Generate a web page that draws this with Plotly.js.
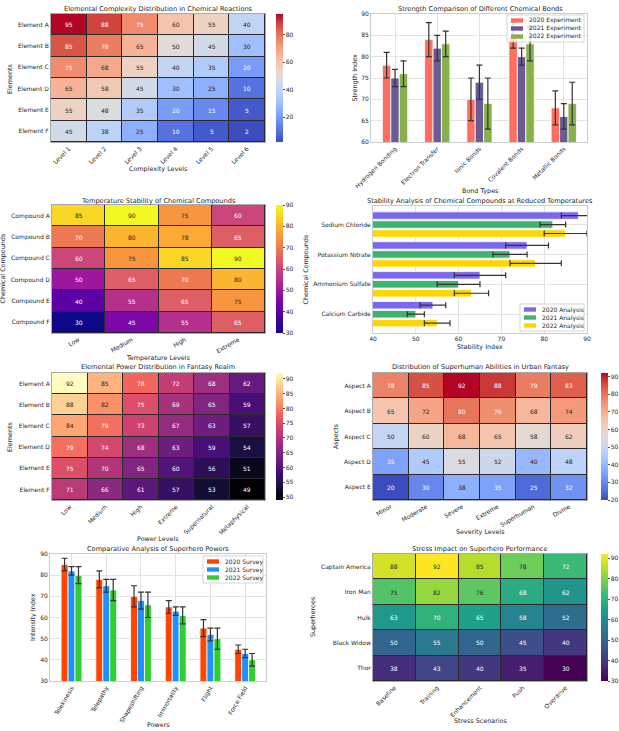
<!DOCTYPE html>
<html>
<head>
<meta charset="utf-8">
<script src="https://cdn.plot.ly/plotly-3.0.1.min.js"></script>
<style>html,body{margin:0;padding:0;background:#fff}#chart{width:619px;height:731px}</style>
</head>
<body>
<div id="chart"></div>
<script>
// ---------- DATA ----------
const complexityElements = ['Element A','Element B','Element C','Element D','Element E','Element F'];
const complexityLevels = ['Level 1','Level 2','Level 3','Level 4','Level 5','Level 6'];
const complexityValues = [
  [95,88,75,60,55,40],
  [85,78,65,50,45,30],
  [75,68,55,40,35,20],
  [65,58,45,30,25,10],
  [55,48,35,20,15,5],
  [45,38,25,10,5,2]
];

const bondTypes = ['Hydrogen Bonding','Electron Transfer','Ionic Bonds','Covalent Bonds','Metallic Bonds'];
const bondSeries = ['2020 Experiment','2021 Experiment','2022 Experiment'];
const bond2020 = [78,84,70,85,68];
const bond2020Err = [3,4,5,3,4];
const bond2021 = [75,82,74,80,66];
const bond2021Err = [2,3,4,2,3];
const bond2022 = [76,83,69,83,69];
const bond2022Err = [3,3,6,4,5];

const compoundNames = ['Compound A','Compound B','Compound C','Compound D','Compound E','Compound F'];
const temperatureLevels = ['Low','Medium','High','Extreme'];
const temperatureValues = [
  [85,90,75,60],
  [70,80,78,65],
  [60,75,85,90],
  [50,65,70,80],
  [40,55,65,75],
  [30,45,55,65]
];

const stabilityCompounds = ['Sodium Chloride','Potassium Nitrate','Ammonium Sulfate','Calcium Carbide'];
const stabilitySeries = ['2020 Analysis','2021 Analysis','2022 Analysis'];
const stability2020 = [88,76,65,54];
const stability2020Err = [4,5,6,3];
const stability2021 = [82,72,60,50];
const stability2021Err = [3,4,5,2];
const stability2022 = [85,78,63,55];
const stability2022Err = [5,6,4,3];

const fantasyElements = ['Element A','Element B','Element C','Element D','Element E','Element F'];
const powerLevels = ['Low','Medium','High','Extreme','Supernatural','Metaphysical'];
const fantasyValues = [
  [92,85,78,72,68,62],
  [88,82,75,69,65,59],
  [84,79,73,67,63,57],
  [79,74,68,63,59,54],
  [75,70,65,60,56,51],
  [71,66,61,57,53,49]
];

const aspects = ['Aspect A','Aspect B','Aspect C','Aspect D','Aspect E'];
const severityLevels = ['Minor','Moderate','Severe','Extreme','Superhuman','Divine'];
const aspectValues = [
  [78,85,92,88,79,83],
  [65,72,80,76,68,74],
  [50,60,68,65,58,62],
  [35,45,55,52,40,48],
  [20,30,38,35,25,32]
];

const powers = ['Telekinesis','Telepathy','Shapeshifting','Immortality','Flight','Force Field'];
const surveySeries = ['2020 Survey','2021 Survey','2022 Survey'];
const survey2020 = [85,78,70,65,55,45];
const survey2020Err = [3,4,5,3,4,2];
const survey2021 = [82,75,68,63,52,43];
const survey2021Err = [2,3,4,2,3,2];
const survey2022 = [80,73,66,61,50,40];
const survey2022Err = [4,5,6,4,5,3];

const superheroes = ['Captain America','Iron Man','Hulk','Black Widow','Thor'];
const stressScenarios = ['Baseline','Training','Enhancement','Push','Overdrive'];
const stressValues = [
  [88,92,85,78,72],
  [75,82,76,68,62],
  [63,70,65,58,52],
  [50,55,50,45,40],
  [38,43,40,35,30]
];

// ---------- STYLE ----------
const W = 619, H = 731;
const FONT = 'DejaVu Sans, Liberation Sans, sans-serif';
const TXT = '#262626';
const px = v => v / W;
const py = v => 1 - v / H;

function even(cols){ return cols.map((c,i)=>[i/(cols.length-1), c]); }
const coolwarm = even(['#3b4cc0','#4d68d7','#6282ea','#779af7','#8db0fe','#a3c2fe','#b8d0f9','#cbd8ee','#dddcdc','#ecd3c5','#f5c4ac','#f7b093','#f49a7b','#ec7f63','#de604d','#cb3e38','#b40426']);
const plasma = even(['#0d0887','#47039f','#7301a8','#9c179e','#bd3786','#d8576b','#ed7953','#fb9f3a','#fdca26','#f0f921']);
const magma = even(['#000004','#180f3d','#440f76','#721f81','#9e2f7f','#cd4071','#f1605d','#fd9668','#feca8d','#fcfdbf']);
const viridis = even(['#440154','#482878','#3e4989','#31688e','#26828e','#1f9e89','#35b779','#6ece58','#b5de2b','#fde725']);

// subplot boxes in pixels [left, right, top, bottom]
const boxes = {
  1:[51,265,14,142],
  2:[371,587,14,142],
  3:[52,265,205,333],
  4:[373,587,206,333],
  5:[52,265,373,500],
  6:[373,587,373,500],
  7:[50,266,554,681],
  8:[373,587,554,681]
};

const layout = {
  width: W, height: H,
  margin: {l:0,r:0,t:0,b:0},
  paper_bgcolor: '#ffffff',
  plot_bgcolor: 'rgba(0,0,0,0)',
  font: {family: FONT, size: 6, color: TXT},
  showlegend: false,
  barmode: 'overlay',
  annotations: [],
  shapes: []
};

function axName(i, a){ return i===1 ? a+'axis' : a+'axis'+i; }
function axRef(i, a){ return i===1 ? a : a+i; }

function hexToRgb(h){ return [parseInt(h.slice(1,3),16), parseInt(h.slice(3,5),16), parseInt(h.slice(5,7),16)]; }
function scaleColor(scale, t){
  t = Math.max(0, Math.min(1, t));
  for (let k=1;k<scale.length;k++){
    if (t <= scale[k][0]){
      const a = hexToRgb(scale[k-1][1]), b = hexToRgb(scale[k][1]);
      const f = (t - scale[k-1][0])/(scale[k][0]-scale[k-1][0]);
      return a.map((v,n)=>v+(b[n]-v)*f);
    }
  }
  return hexToRgb(scale[scale.length-1][1]);
}
function luminance(rgb){
  const l = rgb.map(v=>{ const c=v/255; return c<=0.03928 ? c/12.92 : Math.pow((c+0.055)/1.055, 2.4); });
  return 0.2126*l[0] + 0.7152*l[1] + 0.0722*l[2];
}

function heatAxes(i, tickangle){
  const b = boxes[i];
  layout[axName(i,'x')] = {
    domain:[px(b[0]), px(b[1])], anchor: axRef(i,'y'), type:'category',
    showgrid:false, zeroline:false, ticks:'', tickangle: tickangle,
    tickfont:{size:6, color:TXT, family:FONT}, showline:true, mirror:true,
    linecolor:'#aaaaaa', linewidth:1, fixedrange:true
  };
  layout[axName(i,'y')] = {
    domain:[py(b[3]), py(b[2])], anchor: axRef(i,'x'), type:'category',
    autorange:'reversed', showgrid:false, zeroline:false, ticks:'',
    tickfont:{size:6, color:TXT, family:FONT}, showline:true, mirror:true,
    linecolor:'#aaaaaa', linewidth:1, fixedrange:true
  };
  layout.shapes.push({type:'rect', xref: axRef(i,'x')+' domain', yref: axRef(i,'y')+' domain',
    x0:0, x1:1, y0:0, y1:1, fillcolor:'#2a2a2a', line:{width:0}, layer:'below'});
}

function barAxes(i, catAxis, valRange, dtick, catRange, tickangle){
  const b = boxes[i];
  const common = {showgrid:true, gridcolor:'#e3e3e3', gridwidth:1, zeroline:false, ticks:'',
    tickfont:{size:6, color:TXT, family:FONT}, showline:true, mirror:true,
    linecolor:'#cccccc', linewidth:1, fixedrange:true};
  const cat = Object.assign({}, common, {type:'category', range:catRange, tickangle: tickangle});
  const val = Object.assign({}, common, {range:valRange, dtick:dtick, tick0:0});
  const xa = catAxis==='x' ? cat : val;
  const ya = catAxis==='x' ? val : cat;
  xa.domain = [px(b[0]), px(b[1])]; xa.anchor = axRef(i,'y');
  ya.domain = [py(b[3]), py(b[2])]; ya.anchor = axRef(i,'x');
  layout[axName(i,'x')] = xa;
  layout[axName(i,'y')] = ya;
}

function colorbar(i, cbx, dtick){
  const b = boxes[i];
  return {
    x: px(cbx), xanchor:'left', xref:'paper', xpad:0,
    y: py(b[3]), yanchor:'bottom', yref:'paper', ypad:0,
    len: (b[3]-b[2])/H, lenmode:'fraction', thickness:7, thicknessmode:'pixels',
    outlinewidth:0, ticks:'outside', ticklen:2, tickwidth:0.8, tickcolor:TXT,
    tickfont:{size:6, color:TXT, family:FONT}, dtick:dtick, tick0:0
  };
}

function heat(i, xs, ys, z, scale, cbx, dtick){
  const flat = z.flat();
  const zmin = Math.min(...flat), zmax = Math.max(...flat);
  // cell annotations, coloured like seaborn (light text on dark cells)
  z.forEach((row, r) => row.forEach((v, c) => {
    const lum = luminance(scaleColor(scale, (v - zmin)/(zmax - zmin)));
    layout.annotations.push({
      text: String(v), x: c, y: r, xref: axRef(i,'x'), yref: axRef(i,'y'),
      showarrow:false, xanchor:'center', yanchor:'middle',
      font:{size:6, family:FONT, color: lum > 0.408 ? TXT : '#ffffff'}
    });
  }));
  return {
    type:'heatmap', x:xs, y:ys, z:z, zmin:zmin, zmax:zmax, colorscale:scale,
    xaxis: axRef(i,'x'), yaxis: axRef(i,'y'),
    xgap:1, ygap:1, hoverinfo:'skip', showscale:true, colorbar: colorbar(i, cbx, dtick)
  };
}

function bars(i, orient, cats, vals, errs, name, color, offset, width){
  const t = {
    type:'bar', orientation: orient, name:name, showlegend:false,
    xaxis: axRef(i,'x'), yaxis: axRef(i,'y'),
    marker:{color:color, line:{color:'#ffffff', width:0.8}},
    offset: offset, width: width, hoverinfo:'skip'
  };
  const eb = {type:'data', array:errs, visible:true, color:'#333333', thickness:1.2, width:3};
  if (orient==='h'){ t.y = cats; t.x = vals; t.error_x = eb; }
  else { t.x = cats; t.y = vals; t.error_y = eb; }
  return t;
}

function addText(text, x, y, size, angle){
  layout.annotations.push({text:text, x:px(x), y:py(y), xref:'paper', yref:'paper',
    xanchor:'center', yanchor:'middle', showarrow:false, textangle: angle||0,
    font:{size:size, color:TXT, family:FONT}});
}

// compact matplotlib-style legend box: [left, top, width] in px
function legendBox(names, colors, left, top, width){
  const pitch = 8, h = 6 + pitch*names.length - 3;
  layout.shapes.push({type:'rect', xref:'paper', yref:'paper',
    x0:px(left), x1:px(left+width), y0:py(top+h), y1:py(top),
    fillcolor:'rgba(255,255,255,0.8)', line:{color:'#cccccc', width:0.8}, layer:'above'});
  names.forEach((n, k) => {
    const cy = top + 5.5 + pitch*k;
    layout.shapes.push({type:'rect', xref:'paper', yref:'paper',
      x0:px(left+4), x1:px(left+16), y0:py(cy+2.2), y1:py(cy-2.2),
      fillcolor:colors[k], line:{width:0}, layer:'above'});
    layout.annotations.push({text:n, x:px(left+20), y:py(cy), xref:'paper', yref:'paper',
      xanchor:'left', yanchor:'middle', showarrow:false, font:{size:6, color:TXT, family:FONT}});
  });
}

const traces = [];

// 1: complexity heatmap
heatAxes(1, -45);
traces.push(heat(1, complexityLevels, complexityElements, complexityValues, coolwarm, 276, 20));
addText('Elemental Complexity Distribution in Chemical Reactions', 158, 9, 6.6);
addText('Complexity Levels', 158, 169, 6.4);
addText('Elements', 10, 79, 6.4, -90);

// 2: bond strength bars
const bondColors = ['#FF6F61','#6B5B95','#88B04B'];
barAxes(2, 'x', [60,90], 5, [-0.57,4.55], -45);
traces.push(bars(2,'v',bondTypes,bond2020,bond2020Err,bondSeries[0],bondColors[0],-0.3,0.2));
traces.push(bars(2,'v',bondTypes,bond2021,bond2021Err,bondSeries[1],bondColors[1],-0.1,0.2));
traces.push(bars(2,'v',bondTypes,bond2022,bond2022Err,bondSeries[2],bondColors[2],0.1,0.2));
addText('Strength Comparison of Different Chemical Bonds', 480, 9, 6.6);
addText('Bond Types', 480, 191, 6.4);
addText('Strength Index', 354.5, 78, 6.4, -90);
legendBox(bondSeries, bondColors, 507, 15, 77);

// 3: temperature heatmap
heatAxes(3, -30);
traces.push(heat(3, temperatureLevels, compoundNames, temperatureValues, plasma, 276, 10));
addText('Temperature Stability of Chemical Compounds', 158, 200.5, 6.6);
addText('Temperature Levels', 158, 358, 6.4);
addText('Chemical Compounds', 2.5, 269, 6.4, -90);

// 4: stability horizontal bars
const stabilityColors = ['#7B68EE','#3CB371','#FFD700'];
barAxes(4, 'y', [40,90], 10, [3.63,-0.62], 0);
traces.push(bars(4,'h',stabilityCompounds,stability2020,stability2020Err,stabilitySeries[0],stabilityColors[0],-0.425,0.25));
traces.push(bars(4,'h',stabilityCompounds,stability2021,stability2021Err,stabilitySeries[1],stabilityColors[1],-0.125,0.25));
traces.push(bars(4,'h',stabilityCompounds,stability2022,stability2022Err,stabilitySeries[2],stabilityColors[2],0.175,0.25));
addText('Stability Analysis of Chemical Compounds at Reduced Temperatures', 480, 200.5, 6.6);
addText('Stability Index', 480, 347, 6.4);
// y title of this panel and colour bar label of panel 3 share this spot
addText('Chemical Compounds', 305, 269.5, 6.4, -90);
legendBox(stabilitySeries, stabilityColors, 520, 304, 64);

// 5: fantasy heatmap
heatAxes(5, -45);
traces.push(heat(5, powerLevels, fantasyElements, fantasyValues, magma, 276, 5));
addText('Elemental Power Distribution in Fantasy Realm', 158, 367, 6.6);
addText('Power Levels', 158, 539, 6.4);
addText('Elements', 10, 437, 6.4, -90);

// 6: aspects heatmap
heatAxes(6, -30);
traces.push(heat(6, severityLevels, aspects, aspectValues, coolwarm, 601, 10));
addText('Distribution of Superhuman Abilities in Urban Fantasy', 480, 367, 6.6);
addText('Severity Levels', 480, 532, 6.4);
addText('Aspects', 336, 436, 6.4, -90);

// 7: powers bars
const surveyColors = ['#FF4500','#1E90FF','#32CD32'];
barAxes(7, 'x', [30,90], 10, [-0.62,5.6], -60);
traces.push(bars(7,'v',powers,survey2020,survey2020Err,surveySeries[0],surveyColors[0],-0.3,0.2));
traces.push(bars(7,'v',powers,survey2021,survey2021Err,surveySeries[1],surveyColors[1],-0.1,0.2));
traces.push(bars(7,'v',powers,survey2022,survey2022Err,surveySeries[2],surveyColors[2],0.1,0.2));
addText('Comparative Analysis of Superhero Powers', 158, 549, 6.6);
addText('Powers', 158, 725, 6.4);
addText('Intensity Index', 33, 617, 6.4, -90);
legendBox(surveySeries, surveyColors, 203, 556, 60);

// 8: stress heatmap
heatAxes(8, -45);
traces.push(heat(8, stressScenarios, superheroes, stressValues, viridis, 601, 10));
addText('Stress Impact on Superhero Performance', 480, 549, 6.6);
addText('Stress Scenarios', 480, 721, 6.4);
addText('Superheroes', 313, 617, 6.4, -90);

Plotly.newPlot('chart', traces, layout, {displayModeBar:false, staticPlot:true});
</script>
</body>
</html>
